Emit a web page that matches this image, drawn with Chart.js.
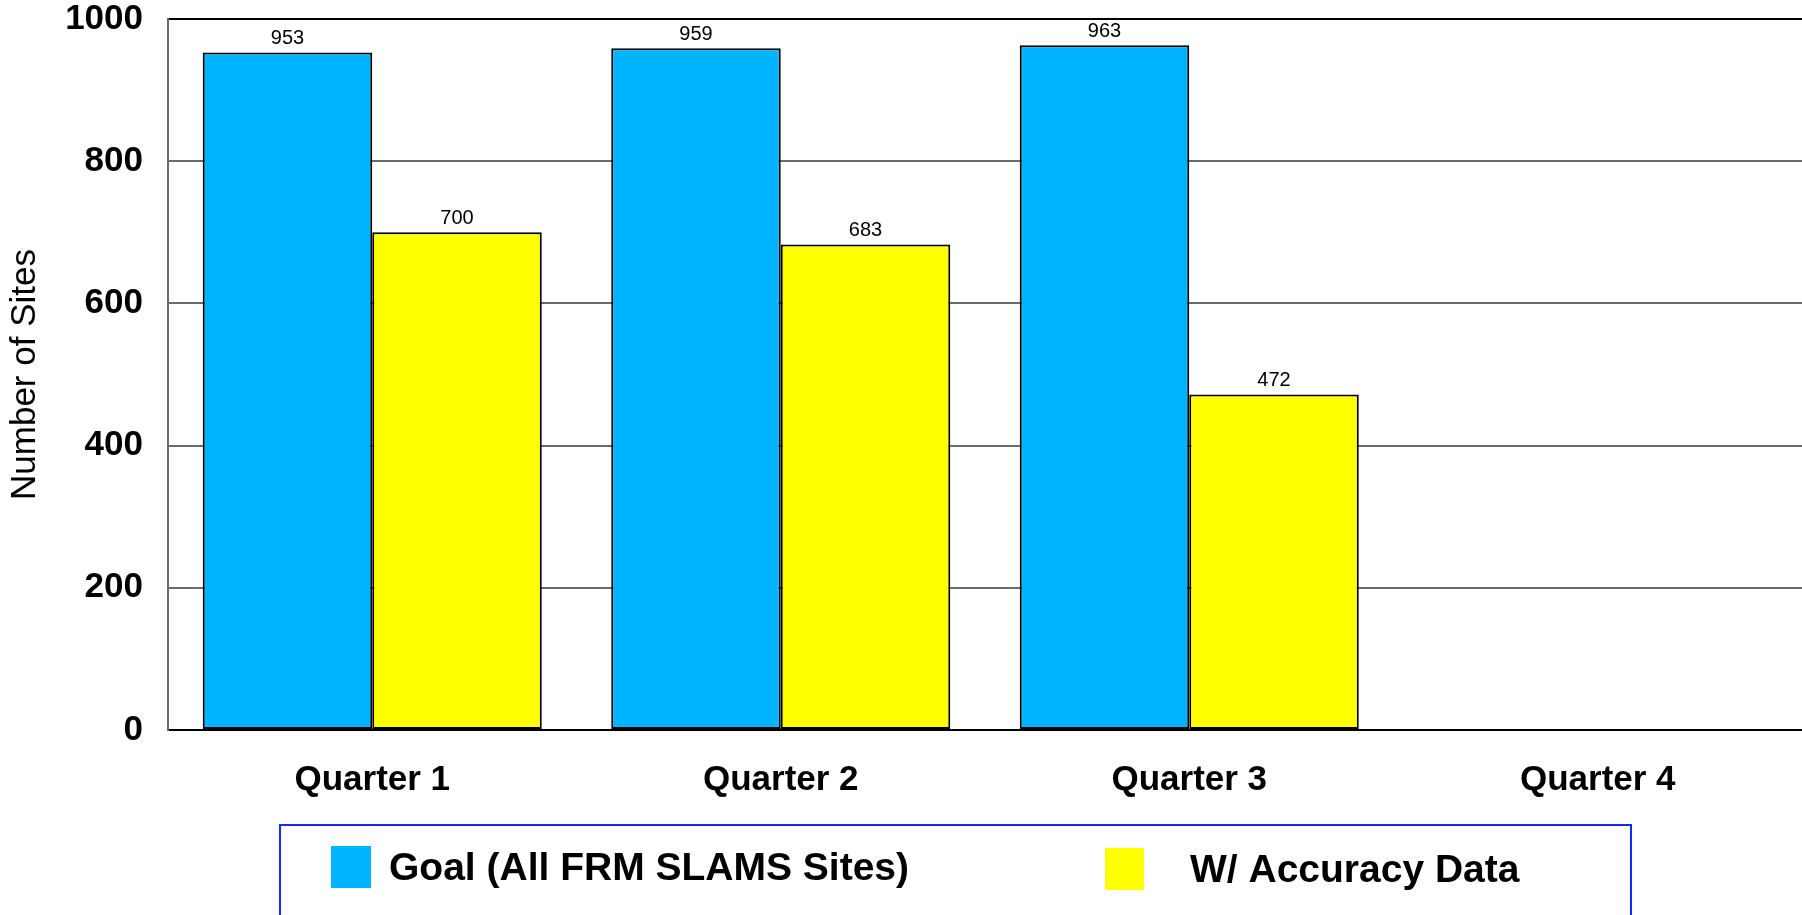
<!DOCTYPE html>
<html>
<head>
<meta charset="utf-8">
<style>
  html, body { margin: 0; padding: 0; background: #fff; }
  #wrap { position: relative; width: 1802px; height: 915px; }
</style>
<script src="https://cdn.jsdelivr.net/npm/chart.js@4/dist/chart.umd.min.js"></script>
</head>
<body>
<div id="wrap"><canvas id="c" width="1802" height="915"></canvas></div>
<script>
const categories = ['Quarter 1', 'Quarter 2', 'Quarter 3', 'Quarter 4'];
const goalSites = [953, 959, 963, null];
const accuracySites = [700, 683, 472, null];
const seriesNames = ['Goal (All FRM SLAMS Sites)', 'W/ Accuracy Data'];
const yTicks = [0, 200, 400, 600, 800, 1000];

const FONT = "'Liberation Sans', Arial, Helvetica, sans-serif";

const valueLabels = {
  id: 'valueLabels',
  afterDatasetsDraw(chart) {
    const ctx = chart.ctx;
    ctx.save();
    ctx.font = '20px ' + FONT;
    ctx.fillStyle = '#000';
    ctx.textAlign = 'center';
    ctx.textBaseline = 'alphabetic';
    chart.data.datasets.forEach((ds, i) => {
      const meta = chart.getDatasetMeta(i);
      meta.data.forEach((bar, j) => {
        const v = ds.data[j];
        if (v === null || v === undefined) return;
        ctx.fillText(String(v), bar.x, bar.y - 8);
      });
    });
    ctx.restore();
  }
};

const boxLegend = {
  id: 'boxLegend',
  afterDraw(chart) {
    const ctx = chart.ctx;
    ctx.save();
    ctx.strokeStyle = '#1428FF';
    ctx.lineWidth = 2;
    ctx.strokeRect(280, 825, 1351, 200);
    const items = [
      { bx: 331, by: 846, bw: 40, bh: 42, tx: 389, ty: 869 },
      { bx: 1105, by: 848, bw: 39, bh: 42, tx: 1190, ty: 871 }
    ];
    ctx.font = 'bold 39px ' + FONT;
    ctx.textBaseline = 'middle';
    ctx.textAlign = 'left';
    chart.data.datasets.forEach((ds, i) => {
      const it = items[i];
      ctx.fillStyle = ds.backgroundColor;
      ctx.fillRect(it.bx, it.by, it.bw, it.bh);
      ctx.fillStyle = '#000';
      ctx.fillText(ds.label, it.tx, it.ty);
    });
    ctx.restore();
  }
};

new Chart(document.getElementById('c'), {
  type: 'bar',
  data: {
    labels: categories,
    datasets: [
      {
        label: seriesNames[0],
        data: goalSites,
        backgroundColor: '#00B4FF',
        borderColor: '#000',
        borderWidth: 2,
        borderSkipped: false,
        categoryPercentage: 0.83,
        barPercentage: 1.0
      },
      {
        label: seriesNames[1],
        data: accuracySites,
        backgroundColor: '#FFFF00',
        borderColor: '#000',
        borderWidth: 2,
        borderSkipped: false,
        categoryPercentage: 0.83,
        barPercentage: 1.0
      }
    ]
  },
  options: {
    responsive: false,
    animation: false,
    devicePixelRatio: 1,
    layout: { padding: { top: 19, right: -6, left: 0, bottom: 0 } },
    plugins: {
      legend: { display: false },
      tooltip: { enabled: false }
    },
    scales: {
      x: {
        grid: { display: false, drawTicks: false },
        border: { display: true, color: '#000', width: 2 },
        ticks: {
          color: '#000',
          font: { family: FONT, size: 35, weight: 'bold' },
          padding: 29
        },
        afterFit(scale) { scale.height = 185; scale.paddingLeft = 0; scale.paddingRight = 0; }
      },
      y: {
        min: 0,
        max: 1000,
        afterBuildTicks(scale) { scale.ticks = yTicks.map(v => ({ value: v })); },
        ticks: {
          color: '#000',
          font: { family: FONT, size: 35, weight: 'bold' },
          padding: 25,
          callback: (v) => String(v)
        },
        grid: {
          drawTicks: false,
          lineWidth: 2,
          color: (c) => (c.tick && c.tick.value === 1000) ? '#000' : '#6A6A6A'
        },
        border: { display: true, color: '#6A6A6A', width: 2 },
        title: {
          display: true,
          text: 'Number of Sites',
          color: '#000',
          font: { family: FONT, size: 35, weight: 'normal' },
          padding: { top: 4, bottom: 4 }
        },
        afterFit(scale) { scale.width = 168; scale.paddingTop = 0; scale.paddingBottom = 0; }
      }
    }
  },
  plugins: [valueLabels, boxLegend]
});
</script>
</body>
</html>
